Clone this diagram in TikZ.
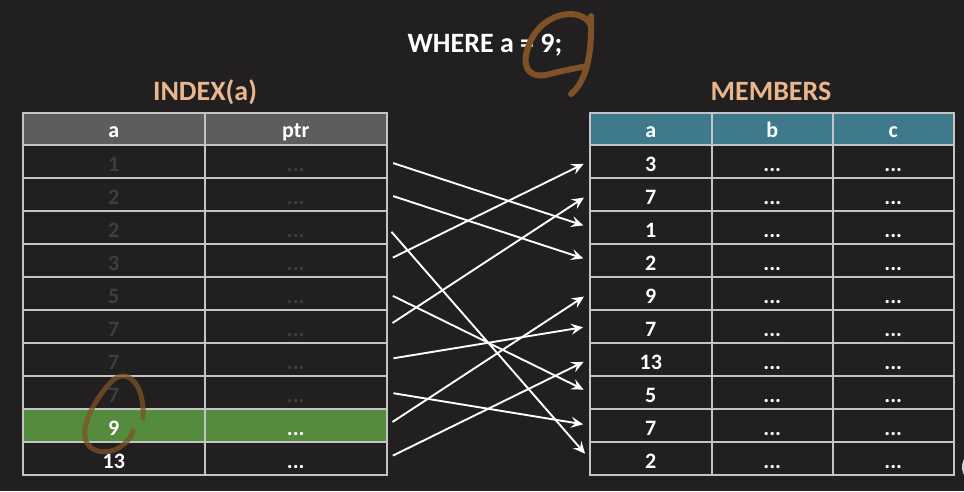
\documentclass[tikz,border=0pt]{standalone}
\usepackage{fontspec}
\setmainfont{Carlito}
\usetikzlibrary{arrows.meta}
\definecolor{bg}{HTML}{211F20}
\definecolor{gridc}{HTML}{C4C4C4}
\definecolor{hdrgrey}{HTML}{5F5C5E}
\definecolor{tealh}{HTML}{3E7A8B}
\definecolor{greenrow}{HTML}{548B3E}
\definecolor{peach}{HTML}{E8B78D}
\definecolor{faded}{HTML}{3F3D3E}
\definecolor{penbrown}{HTML}{7E5226}
\definecolor{camgrey}{HTML}{D2D2D2}
\tikzset{
  cell/.style={draw=gridc, line width=1.5pt, minimum width=#1, minimum height=33pt,
    inner sep=0pt, anchor=north west, text height=21pt, text depth=0pt,
    font=\fontsize{22}{24}\selectfont\bfseries, text=white},
  hcell/.style={cell=#1, minimum height=32pt, text height=17pt},
  title/.style={font=\fontsize{28}{32}\selectfont\bfseries, inner sep=0pt},
  arr/.style={draw=white, line width=1.9pt, -{Stealth[length=12pt,width=11pt,inset=4.5pt]},
    shorten <=6pt, shorten >=6pt},
  pen/.style={draw=penbrown, line width=6pt, line cap=round, line join=round}
}
\begin{document}
\begin{tikzpicture}[x=1pt,y=-1pt]
\useasboundingbox (0,0) rectangle (964,491);
\fill[bg] (0,0) rectangle (964,491);

% titles
\node[title, text=white, anchor=base] (where) at (485,52) {WHERE a = 9;};
\node[title, text=peach, anchor=base] (idx) at (205,100) {INDEX(a)};
\node[title, text=peach, anchor=base] (mem) at (771,100) {MEMBERS};

% left table header
\node[hcell=182, fill=hdrgrey] (Lha) at (22,112) {a};
\node[hcell=182, fill=hdrgrey] (Lhp) at (204,112) {ptr};
% left rows
\foreach \i/\v in {0/1,1/2,2/2,3/3,4/5,5/7,6/7,7/7} {
  \node[cell=182, text=faded] (La\i) at (22,{144+33*\i}) {\v};
  \node[cell=182, text=faded] (Lp\i) at (204,{144+33*\i}) {...};
}
\node[cell=182, fill=greenrow] (La8) at (22,408) {9};
\node[cell=182, fill=greenrow] (Lp8) at (204,408) {...};
\node[cell=182] (La9) at (22,441) {13};
\node[cell=182] (Lp9) at (204,441) {...};

% right table header
\node[hcell=122, fill=tealh] (Rha) at (589,112) {a};
\node[hcell=121, fill=tealh] (Rhb) at (711,112) {b};
\node[hcell=121, fill=tealh] (Rhc) at (832,112) {c};
\foreach \i/\v in {0/3,1/7,2/1,3/2,4/9,5/7,6/13,7/5,8/7,9/2} {
  \node[cell=122] (Ra\i) at (589,{144+33*\i}) {\v};
  \node[cell=121] (Rb\i) at (711,{144+33*\i}) {...};
  \node[cell=121] (Rc\i) at (832,{144+33*\i}) {...};
}

% pointers
\foreach \s/\t in {0/2,1/3,2/9,3/0,4/7,5/1,6/5,7/8,8/4,9/6} {
  \draw[arr] (Lp\s.east) -- (Ra\t.west);
}

% hand-drawn annotations
\draw[pen] (590,24) .. controls (582,8) and (546,10) .. (531,40)
  .. controls (518,68) and (530,80) .. (550,74)
  .. controls (565,70) and (578,68) .. (587,66);
\draw[pen] (591,16) .. controls (592,50) and (588,80) .. (571,94);
\draw[pen, draw opacity=0.75, line width=5pt] (143,418) .. controls (145,383) and (126,366) .. (111,382)
  .. controls (92,402) and (72,440) .. (95,450)
  .. controls (110,456) and (128,446) .. (133,431);

% camera overlay edge
\fill[camgrey] (977,467) ellipse [x radius=15pt, y radius=16pt];
\end{tikzpicture}
\end{document}
